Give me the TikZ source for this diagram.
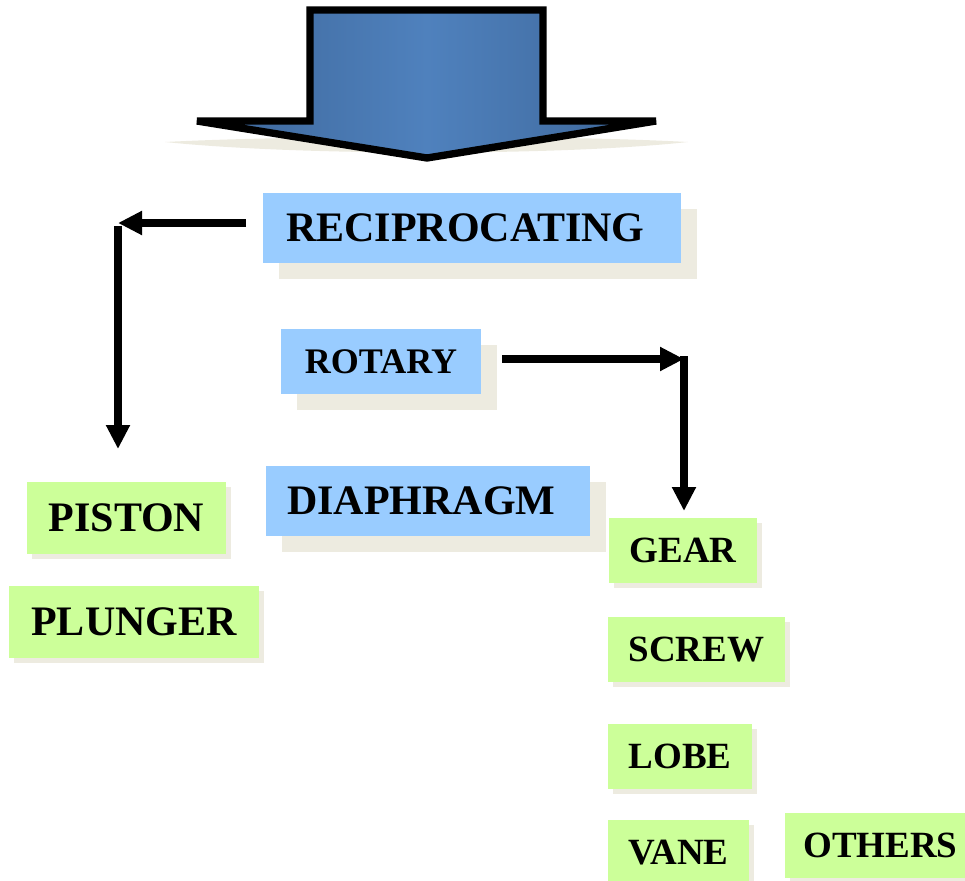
\documentclass[tikz,border=0pt]{standalone}
\usepackage{fontspec}
\setmainfont{Liberation Serif}
\usepackage{tikz}
\usetikzlibrary{arrows.meta, shadows, positioning}

\definecolor{boxBlue}{HTML}{99CCFF}
\definecolor{boxGreen}{HTML}{CCFF99}
\definecolor{boxShadow}{HTML}{EDEBE0}
\definecolor{arrowMid}{HTML}{4F81BD}
\definecolor{arrowEdge}{HTML}{3D6699}

\tikzset{
    typebox/.style={fill=boxBlue, inner sep=0pt, font=\bfseries\fontsize{31.5}{36}\selectfont,
        drop shadow={shadow xshift=12pt, shadow yshift=-12pt, fill=boxShadow, opacity=1}},
    kindbox/.style={fill=boxGreen, inner sep=0pt, font=\bfseries\fontsize{27.75}{32}\selectfont,
        drop shadow={shadow xshift=3.75pt, shadow yshift=-3.75pt, fill=boxShadow, opacity=1}},
    conn/.style={line width=5.5pt, -{Triangle[length=18pt,width=17pt]}},
}

\begin{document}
\begin{tikzpicture}[x=0.75pt, y=-0.75pt]
    \clip (0,0) rectangle (965,881);

    % shadow under the big arrow
    \fill[boxShadow] (165,142) .. controls (300,135) and (560,135) .. (688,142)
        .. controls (560,156) and (300,156) .. cycle;

    % big arrow
    \shade[left color=arrowEdge, right color=arrowEdge, middle color=arrowMid,
        draw=black, line width=5.5pt]
        (310,10) -- (543,10) -- (543,121) -- (656,121) -- (427,158)
        -- (197,121) -- (310,121) -- cycle;

    % pump types
    \node[typebox, minimum width=418*0.75pt, minimum height=70*0.75pt] (recip) at (472,228) {RECIPROCATING\kern10pt};
    \node[typebox, minimum width=200*0.75pt, minimum height=65*0.75pt,
        font=\bfseries\fontsize{27}{32}\selectfont] (rotary) at (381,361.5) {ROTARY};
    \node[typebox, minimum width=324*0.75pt, minimum height=70*0.75pt] (diaph) at (428,501) {DIAPHRAGM\kern10pt};

    % reciprocating kinds
    \node[kindbox, minimum width=199*0.75pt, minimum height=72*0.75pt,
        font=\bfseries\fontsize{31.5}{36}\selectfont] (piston) at (126.5,518) {PISTON};
    \node[kindbox, minimum width=250*0.75pt, minimum height=72*0.75pt,
        font=\bfseries\fontsize{31.5}{36}\selectfont] (plunger) at (134,622) {PLUNGER};

    % rotary kinds
    \node[kindbox, minimum width=148*0.75pt, minimum height=65*0.75pt] (gear) at (683,550.5) {GEAR};
    \node[kindbox, minimum width=177*0.75pt, minimum height=65*0.75pt] (screw) at (696.5,649.5) {SCREW};
    \node[kindbox, minimum width=144*0.75pt, minimum height=65*0.75pt] (lobe) at (680,756.5) {LOBE};
    \node[kindbox, minimum width=141*0.75pt, minimum height=65*0.75pt] (vane) at (678.5,852.5) {VANE};
    \node[kindbox, minimum width=180*0.75pt, minimum height=65*0.75pt] (others) at (875,845.5) {\kern8pt OTHERS};

    % connectors
    \coordinate (recipOut) at (246,223);
    \coordinate (recipCorner) at (118,223);
    \coordinate (pistonIn) at (118,449);
    \coordinate (rotaryOut) at (502,359);
    \coordinate (rotaryCorner) at (684,359);
    \coordinate (gearIn) at (684,511);

    \draw[conn] (recipOut) -- (recipCorner);
    \draw[conn] ([yshift=-2pt]recipCorner) -- (pistonIn);
    \draw[conn] (rotaryOut) -- (rotaryCorner);
    \draw[conn] ([yshift=2pt]rotaryCorner) -- (gearIn);
\end{tikzpicture}
\end{document}
